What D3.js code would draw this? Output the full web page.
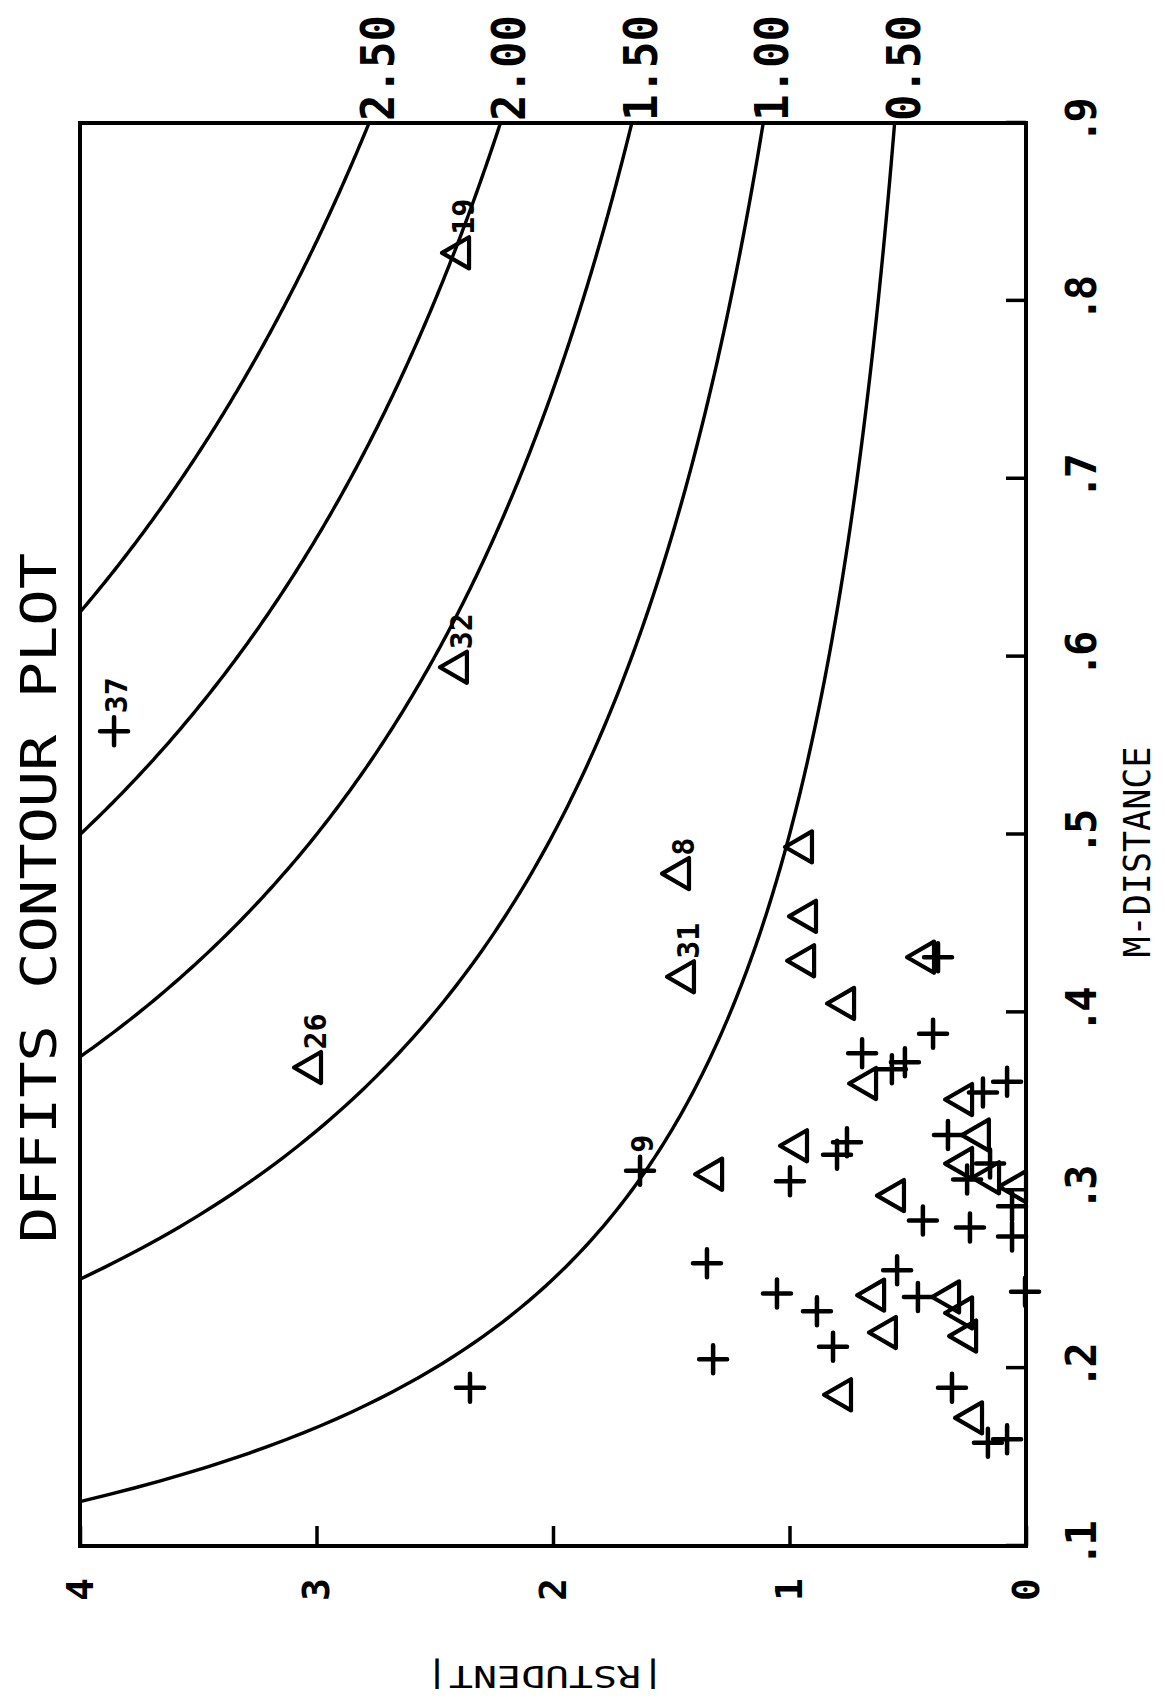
<!DOCTYPE html>
<html>
<head>
<meta charset="utf-8">
<script src="https://cdn.jsdelivr.net/npm/d3@7/dist/d3.min.js"></script>
<style>
body { margin: 0; background: #fff; }
text { font-family: "DejaVu Sans Mono", "Liberation Mono", monospace; fill: #000; }
</style>
</head>
<body>
<svg id="chart" width="1165" height="1698"></svg>
<script>
// DFFITS contour levels drawn as curves, labelled at the right edge
var levels = [0.5, 1.0, 1.5, 2.0, 2.5];
var levelLabels = ["0.50", "1.00", "1.50", "2.00", "2.50"];

// axis ticks
var mTicks = [0.1, 0.2, 0.3, 0.4, 0.5, 0.6, 0.7, 0.8, 0.9];
var mTickLabels = [".1", ".2", ".3", ".4", ".5", ".6", ".7", ".8", ".9"];
var rTicks = [0, 1, 2, 3, 4];
var rTickLabels = ["0", "1", "2", "3", "4"];

// "+" observations: M-distance, |rstudent|, label
var plusM = [0.558, 0.311, 0.189, 0.259, 0.205, 0.242, 0.232, 0.212, 0.305, 0.327,
             0.320, 0.388, 0.377, 0.372, 0.368, 0.431, 0.355, 0.361, 0.331, 0.306,
             0.315, 0.291, 0.283, 0.279, 0.274, 0.255, 0.240, 0.243, 0.189, 0.158, 0.160];
var plusR = [3.856, 1.632, 2.351, 1.349, 1.323, 1.053, 0.884, 0.816, 0.998, 0.757,
             0.799, 0.393, 0.693, 0.512, 0.567, 0.372, 0.182, 0.080, 0.330, 0.249,
             0.152, 0.059, 0.436, 0.237, 0.059, 0.545, 0.457, 0.004, 0.313, 0.161, 0.080];
var plusLabel = ["37", "9", "", "", "", "", "", "", "", "",
                 "", "", "", "", "", "", "", "", "", "",
                 "", "", "", "", "", "", "", "", "", "", ""];

// triangle observations
var triM = [0.827, 0.594, 0.369, 0.420, 0.478, 0.493, 0.454, 0.429, 0.431, 0.405,
            0.360, 0.351, 0.331, 0.315, 0.307, 0.302, 0.297, 0.325, 0.309, 0.241,
            0.220, 0.240, 0.231, 0.218, 0.185, 0.172];
var triR = [2.393, 2.402, 3.019, 1.442, 1.463, 0.943, 0.926, 0.934, 0.427, 0.765,
            0.672, 0.266, 0.195, 0.266, 0.152, 0.038, 0.554, 0.964, 1.323, 0.638,
            0.588, 0.321, 0.266, 0.249, 0.778, 0.224];
var triLabel = ["19", "32", "26", "31", "8", "", "", "", "", "",
                "", "", "", "", "", "", "", "", "", "",
                "", "", "", "", "", ""];

var W = 1165, H = 1698;
var svg = d3.select('#chart');
svg.append('rect').attr('width', W).attr('height', H).attr('fill', '#fff');

// the page is the chart turned a quarter turn: build it upright, then rotate
var g = svg.append('g').attr('transform', 'translate(0,' + H + ') rotate(-90)');

var x = d3.scaleLinear().domain([0.1, 0.9]).range([152, 1575]);
var y = d3.scaleLinear().domain([0, 4]).range([1026, 80]);

// frame
g.append('rect')
  .attr('x', x(0.1)).attr('y', y(4))
  .attr('width', x(0.9) - x(0.1)).attr('height', y(0) - y(4))
  .attr('fill', 'none').attr('stroke', '#000').attr('stroke-width', 4);

// x axis (M-distance)
var xAxis = d3.axisBottom(x)
  .tickValues(mTicks)
  .tickSizeInner(-20).tickSizeOuter(0).tickPadding(40)
  .tickFormat(function (d, i) { return mTickLabels[i]; });
var gx = g.append('g').attr('transform', 'translate(0,' + y(0) + ')').call(xAxis);
gx.select('.domain').remove();
gx.selectAll('line').attr('stroke', '#000').attr('stroke-width', 3.5);
gx.selectAll('text').attr('font-size', 42).attr('font-weight', 'bold').attr('letter-spacing', -4)
  .attr('font-family', '"DejaVu Sans Mono", monospace');

// y axis (|rstudent|)
var yAxis = d3.axisLeft(y)
  .tickValues(rTicks)
  .tickSizeInner(-20).tickSizeOuter(0).tickPadding(32)
  .tickFormat(function (d, i) { return rTickLabels[i]; });
var gy = g.append('g').attr('transform', 'translate(' + x(0.1) + ',0)').call(yAxis);
gy.select('.domain').remove();
gy.selectAll('line').attr('stroke', '#000').attr('stroke-width', 3.5);
gy.selectAll('text').attr('font-size', 38).attr('font-weight', 'bold')
  .attr('font-family', '"DejaVu Sans Mono", monospace');

// contour curves: dffits = |rstudent| * m
var line = d3.line()
  .x(function (d) { return x(d[0]); })
  .y(function (d) { return y(d[1]); });
var curveGroup = g.append('g');
levels.forEach(function (lv, i) {
  var pts = [];
  var m0 = Math.max(0.1, lv / 4);
  for (var k = 0; k <= 200; k++) {
    var m = m0 + (0.9 - m0) * k / 200;
    pts.push([m, lv / m]);
  }
  curveGroup.append('path')
    .attr('d', line(pts))
    .attr('fill', 'none').attr('stroke', '#000').attr('stroke-width', 3.4);
  g.append('text')
    .attr('x', x(0.9) + 2)
    .attr('y', y(lv / 0.9) + 25)
    .attr('font-size', 46).attr('font-weight', 'bold')
    .attr('textLength', 106).attr('lengthAdjust', 'spacingAndGlyphs')
    .text(levelLabels[i]);
});

// markers
var pointGroup = g.append('g');
plusM.forEach(function (m, i) {
  var px = x(m), py = y(plusR[i]);
  pointGroup.append('path')
    .attr('transform', 'translate(' + px + ',' + py + ')')
    .attr('d', 'M-14,0H14M0,-14V14')
    .attr('stroke', '#000').attr('stroke-width', 4.5).attr('stroke-linecap', 'round');
  if (plusLabel[i]) {
    pointGroup.append('text')
      .attr('x', px + 18).attr('y', py + 13)
      .attr('font-size', 30).attr('font-weight', 'bold')
      .text(plusLabel[i]);
  }
});
var tri = d3.symbol().type(d3.symbolTriangle).size(420);
triM.forEach(function (m, i) {
  var px = x(m), py = y(triR[i]);
  pointGroup.append('path')
    .attr('transform', 'translate(' + px + ',' + py + ')')
    .attr('d', tri())
    .attr('fill', 'none').attr('stroke', '#000').attr('stroke-width', 4.2)
    .attr('stroke-linejoin', 'round');
  if (triLabel[i]) {
    pointGroup.append('text')
      .attr('x', px + 18).attr('y', py + 14)
      .attr('font-size', 30).attr('font-weight', 'bold')
      .text(triLabel[i]);
  }
});

// titles
g.append('text')
  .attr('x', 800).attr('y', 56)
  .attr('text-anchor', 'middle')
  .attr('font-size', 49)
  .attr('textLength', 690).attr('lengthAdjust', 'spacingAndGlyphs')
  .text('DFFITS CONTOUR PLOT');

g.append('text')
  .attr('x', 846).attr('y', 1150)
  .attr('text-anchor', 'middle')
  .attr('font-size', 38)
  .attr('textLength', 211).attr('lengthAdjust', 'spacingAndGlyphs')
  .text('M-DISTANCE');

g.append('text')
  .attr('transform', 'translate(32,545) rotate(-90)')
  .attr('text-anchor', 'middle')
  .attr('font-size', 30)
  .attr('textLength', 240).attr('lengthAdjust', 'spacingAndGlyphs')
  .text('|RSTUDENT|');
</script>
</body>
</html>
